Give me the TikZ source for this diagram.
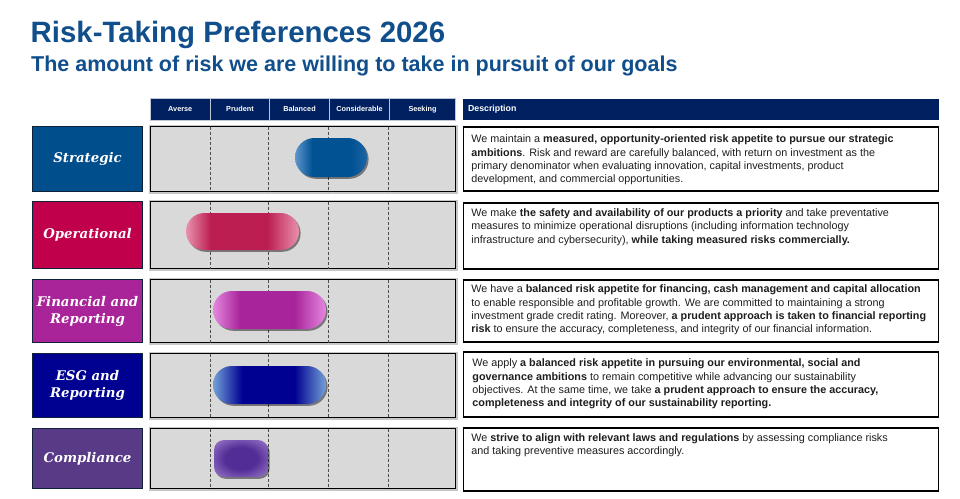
\documentclass[tikz,border=0pt]{standalone}
\usepackage{fontspec}
\setmainfont{Liberation Sans}
\newfontfamily\labelfont{DejaVu Serif}
\usetikzlibrary{shadows}
\definecolor{titleblue}{RGB}{16,78,140}
\definecolor{navy}{RGB}{0,32,96}
\definecolor{lblborder}{RGB}{14,34,58}
\definecolor{greyfill}{RGB}{217,217,217}
\definecolor{txtgrey}{RGB}{30,30,30}
\definecolor{cStrat}{RGB}{0,78,140}
\definecolor{cOper}{RGB}{192,0,75}
\definecolor{cFin}{RGB}{168,36,152}
\definecolor{cESG}{RGB}{0,0,145}
\definecolor{cComp}{RGB}{88,58,135}
\definecolor{sD}{RGB}{0,82,147}
\definecolor{sL}{RGB}{95,150,205}
\definecolor{sR}{RGB}{30,100,165}
\definecolor{oD}{RGB}{188,30,82}
\definecolor{oL}{RGB}{232,145,172}
\definecolor{fD}{RGB}{168,36,155}
\definecolor{fL}{RGB}{228,135,222}
\definecolor{eD}{RGB}{0,0,145}
\definecolor{eL}{RGB}{115,160,215}
\definecolor{cD}{RGB}{82,45,150}
\definecolor{cL}{RGB}{145,110,195}
\pgfdeclarehorizontalshading{shStrat}{100bp}{color(0bp)=(sL); color(25bp)=(sL); color(37bp)=(sD); color(64bp)=(sD); color(75bp)=(sR); color(100bp)=(sR)}
\pgfdeclarehorizontalshading{shOper}{100bp}{color(0bp)=(oL); color(25bp)=(oL); color(36bp)=(oD); color(61bp)=(oD); color(75bp)=(oL); color(100bp)=(oL)}
\pgfdeclarehorizontalshading{shFin}{100bp}{color(0bp)=(fL); color(25bp)=(fL); color(37bp)=(fD); color(61bp)=(fD); color(75bp)=(fL); color(100bp)=(fL)}
\pgfdeclarehorizontalshading{shESG}{100bp}{color(0bp)=(eL); color(25bp)=(eL); color(38bp)=(eD); color(61bp)=(eD); color(75bp)=(eL); color(100bp)=(eL)}
\pgfdeclareradialshading{shComp}{\pgfpoint{0bp}{0bp}}{color(0bp)=(cD); color(15bp)=(cD); color(32bp)=(cL); color(50bp)=(cL)}
\tikzset{
  lbl/.style={draw=lblborder, line width=1.6pt, minimum width=110pt, inner sep=0pt,
    text=white, align=center, font=\labelfont\bfseries\itshape\fontsize{13.3}{17}\selectfont},
  gbox/.style={fill=greyfill, draw=black, line width=1.6pt, minimum width=305pt, inner sep=0pt,
    preaction={draw=black!22, line width=4pt}},
  dbox/.style={fill=white, draw=black, line width=1.6pt, minimum width=475pt, inner sep=0pt},
  hcell/.style={fill=navy, draw=white!75!navy, line width=0.7pt, minimum height=21.5pt, inner sep=0pt,
    text=white, font=\bfseries\fontsize{7.3}{8}\selectfont},
  pill/.style={inner sep=0pt, draw=none,
    drop shadow={shadow xshift=1.6pt, shadow yshift=-1.8pt, opacity=0.45, fill=black}},
  dashline/.style={densely dashed, line width=0.5pt, black!70},
  desc/.style={anchor=north west, inner sep=0pt, align=left, text=txtgrey,
    font=\fontsize{10.8}{13.4}\selectfont},
}
\begin{document}
\begin{tikzpicture}[x=1pt,y=-1pt]
\useasboundingbox[fill=white] (0,0) rectangle (960,498);
% titles
\node[anchor=base west, inner sep=0pt, text=titleblue, font=\bfseries\fontsize{29.4}{33}\selectfont] (title) at (30.5,42) {Risk-Taking Preferences 2026};
\node[anchor=base west, inner sep=0pt, text=titleblue, font=\bfseries\fontsize{21.5}{24}\selectfont] (subtitle) at (31,71) {The amount of risk we are willing to take in pursuit of our goals};
% column headers
\node[hcell, minimum width=60.5pt] (h1) at (180.25,109.25) {Averse};
\node[hcell, minimum width=59pt] (h2) at (240,109.25) {Prudent};
\node[hcell, minimum width=60pt] (h3) at (299.5,109.25) {Balanced};
\node[hcell, minimum width=60pt] (h4) at (359.5,109.25) {Considerable};
\node[hcell, minimum width=66pt] (h5) at (422.5,109.25) {Seeking};
\node[fill=navy, minimum width=476pt, minimum height=21pt, inner sep=0pt] (dh) at (701,109.5) {};
\node[anchor=west, inner sep=0pt, text=white, font=\bfseries\fontsize{8.8}{10}\selectfont] (dhtext) at ([xshift=5pt]dh.west) {Description};
% label boxes
\node[lbl, fill=cStrat, minimum height=65pt] (l1) at (87.5,159) {Strategic};
\node[lbl, fill=cOper, minimum height=67pt] (l2) at (87.5,235) {Operational};
\node[lbl, fill=cFin, minimum height=63pt] (l3) at (87.5,311) {Financial and\\Reporting};
\node[lbl, fill=cESG, minimum height=64pt] (l4) at (87.5,385.5) {ESG and\\Reporting};
\node[lbl, fill=cComp, minimum height=60pt] (l5) at (87.5,458.5) {Compliance};
% grey boxes
\node[gbox, minimum height=65pt] (g1) at (303,159) {};
\node[gbox, minimum height=67pt] (g2) at (303,235) {};
\node[gbox, minimum height=63pt] (g3) at (303,311) {};
\node[gbox, minimum height=64pt] (g4) at (303,385.5) {};
\node[gbox, minimum height=60pt] (g5) at (303,458.5) {};
\foreach \g in {g1,g2,g3,g4,g5}{
  \foreach \dx in {60.5,119,178.5,238.5}{
    \draw[dashline] ([xshift=\dx pt, yshift=-0.8pt]\g.north west) -- ([xshift=\dx pt, yshift=0.8pt]\g.south west);
  }
}
% pills
\node[pill, shading=shStrat, minimum width=72pt, minimum height=39pt, rounded corners=19.4pt] (p1) at (331,157.5) {};
\node[pill, shading=shOper, minimum width=113pt, minimum height=37pt, rounded corners=18.4pt] (p2) at (242.5,231.5) {};
\node[pill, shading=shFin, minimum width=113pt, minimum height=38pt, rounded corners=18.9pt] (p3) at (269.5,310) {};
\node[pill, shading=shESG, minimum width=113pt, minimum height=38pt, rounded corners=18.9pt] (p4) at (269.5,385) {};
\node[pill, shading=shComp, minimum width=54pt, minimum height=37pt, rounded corners=10pt] (p5) at (241,458.5) {};
% description boxes
\node[dbox, minimum height=64pt] (d1) at (701,159) {};
\node[dbox, minimum height=66pt] (d2) at (701,236) {};
\node[dbox, minimum height=62pt] (d3) at (701,311) {};
\node[dbox, minimum height=65pt] (d4) at (701,384.5) {};
\node[dbox, minimum height=63pt] (d5) at (701,459.5) {};
\node[desc] (t1) at ([xshift=8.5pt, yshift=-8.5pt]d1.north west) {We maintain a \textbf{measured, opportunity-oriented risk appetite to pursue our strategic}\\\textbf{ambitions}. Risk and reward are carefully balanced, with return on investment as the\\primary denominator when evaluating innovation, capital investments, product\\development, and commercial opportunities.};
\node[desc] (t2) at ([xshift=8.5pt, yshift=-6pt]d2.north west) {We make \textbf{the safety and availability of our products a priority} and take preventative\\measures to minimize operational disruptions (including information technology\\infrastructure and cybersecurity), \textbf{while taking measured risks commercially.}};
\node[desc] (t3) at ([xshift=8.5pt, yshift=-5.5pt]d3.north west) {We have a \textbf{balanced risk appetite for financing, cash management and capital allocation}\\to enable responsible and profitable growth. We are committed to maintaining a strong\\investment grade credit rating. Moreover, \textbf{a prudent approach is taken to financial reporting}\\\textbf{risk} to ensure the accuracy, completeness, and integrity of our financial information.};
\node[desc] (t4) at ([xshift=9.5pt, yshift=-7.5pt]d4.north west) {We apply \textbf{a balanced risk appetite in pursuing our environmental, social and}\\\textbf{governance ambitions} to remain competitive while advancing our sustainability\\objectives. At the same time, we take \textbf{a prudent approach to ensure the accuracy,}\\\textbf{completeness and integrity of our sustainability reporting.}};
\node[desc] (t5) at ([xshift=8.5pt, yshift=-6pt]d5.north west) {We \textbf{strive to align with relevant laws and regulations} by assessing compliance risks\\and taking preventive measures accordingly.};
\end{tikzpicture}
\end{document}
